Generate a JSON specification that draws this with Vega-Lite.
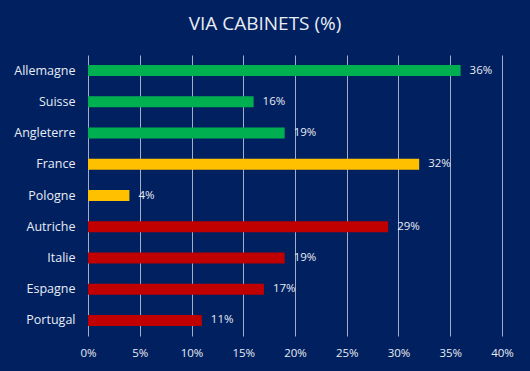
{
  "$schema": "https://vega.github.io/schema/vega-lite/v6.json",
  "width": 414,
  "height": 281,
  "autosize": {"type": "none"},
  "padding": {"left": 88, "top": 55, "right": 28, "bottom": 35},
  "background": "#002060",
  "title": {
    "text": "VIA CABINETS (%)",
    "font": "Open Sans",
    "fontSize": 19,
    "fontWeight": "normal",
    "color": "#e8ecf4",
    "anchor": "middle",
    "dx": -30,
    "offset": 21
  },
  "config": {
    "view": {"stroke": null},
    "text": {"font": "Open Sans"}
  },
  "data": {
    "values": [
      {"pays": "Allemagne", "valeur": 0.36, "groupe": "vert"},
      {"pays": "Suisse", "valeur": 0.16, "groupe": "vert"},
      {"pays": "Angleterre", "valeur": 0.19, "groupe": "vert"},
      {"pays": "France", "valeur": 0.32, "groupe": "jaune"},
      {"pays": "Pologne", "valeur": 0.04, "groupe": "jaune"},
      {"pays": "Autriche", "valeur": 0.29, "groupe": "rouge"},
      {"pays": "Italie", "valeur": 0.19, "groupe": "rouge"},
      {"pays": "Espagne", "valeur": 0.17, "groupe": "rouge"},
      {"pays": "Portugal", "valeur": 0.11, "groupe": "rouge"}
    ]
  },
  "encoding": {
    "y": {
      "field": "pays",
      "type": "nominal",
      "sort": null,
      "title": null,
      "axis": {
        "domain": false,
        "ticks": false,
        "labelPadding": 13,
        "labelFont": "Open Sans",
        "labelFontSize": 12.5,
        "labelColor": "#e8ecf4"
      }
    },
    "x": {
      "field": "valeur",
      "type": "quantitative",
      "scale": {"domain": [0, 0.4], "nice": false},
      "title": null,
      "axis": {
        "values": [0, 0.05, 0.1, 0.15, 0.2, 0.25, 0.3, 0.35, 0.4],
        "format": ".0%",
        "domain": false,
        "ticks": false,
        "grid": true,
        "gridColor": "#a3adc6",
        "gridWidth": 1,
        "labelFlush": false,
        "labelPadding": 11,
        "labelFont": "Open Sans",
        "labelFontSize": 11.5,
        "labelColor": "#e8ecf4"
      }
    }
  },
  "layer": [
    {
      "mark": {"type": "bar", "size": 11},
      "encoding": {
        "color": {
          "field": "groupe",
          "type": "nominal",
          "scale": {"domain": ["vert", "jaune", "rouge"], "range": ["#00b050", "#ffc000", "#c00000"]},
          "legend": null
        }
      }
    },
    {
      "mark": {"type": "text", "align": "left", "baseline": "middle", "dx": 9, "fontSize": 11.5, "color": "#e8ecf4"},
      "encoding": {
        "text": {"field": "valeur", "type": "quantitative", "format": ".0%"}
      }
    }
  ]
}
